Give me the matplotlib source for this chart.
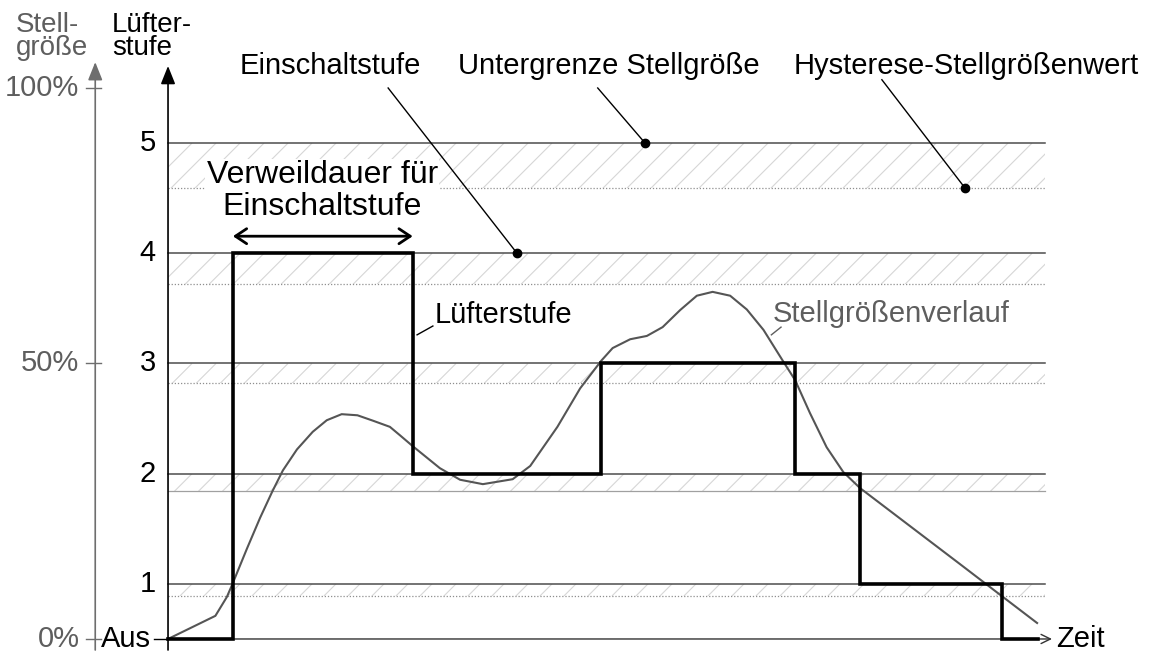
import matplotlib.pyplot as plt
from matplotlib.collections import LineCollection
from matplotlib.patches import Rectangle

plt.rcParams['font.family'] = ['Liberation Sans', 'DejaVu Sans']

# Lüfterstufen mit Untergrenze der Stellgröße (%) und Hysterese (%)
stufen = [1, 2, 3, 4, 5]
untergrenze = [10, 30, 50, 70, 90]
hysterese = [2.2, 3.2, 3.6, 5.6, 8.2]

# Lüfterstufe über der Zeit (Umschaltzeitpunkte, post-step)
schalt_t = [0, 7.4, 27.9, 49.4, 71.5, 78.9, 95.1, 99.2]
schalt_stufe = [0, 4, 2, 3, 2, 1, 0, 0]

# Stellgrößenverlauf
zeit = [0, 5.4, 6.7, 7.3, 9.0, 10.5, 11.9, 13.1, 14.7, 16.5, 18.1, 19.8, 21.6,
        23.4, 25.3, 26.5, 27.9, 31.0, 33.3, 35.9, 39.3, 41.3, 44.4, 47.0, 49.4,
        50.7, 52.7, 54.6, 56.4, 58.4, 60.3, 62.1, 64.1, 66.0, 67.9, 70.1, 71.5,
        73.2, 75.1, 77.0, 78.9, 84.6, 90.3, 94.9, 99.1]
stellgroesse = [0, 4.2, 7.6, 9.8, 16.4, 22.0, 26.8, 30.6, 34.4, 37.6, 39.7,
                40.8, 40.6, 39.6, 38.5, 36.9, 35.0, 31.0, 28.9, 28.1, 29.0,
                31.4, 38.5, 45.5, 50.5, 52.8, 54.4, 55.0, 56.6, 59.7, 62.3,
                63.0, 62.3, 59.8, 56.1, 50.5, 47.0, 41.0, 34.8, 30.3, 27.4,
                20.5, 13.6, 8.0, 2.9]

pct_ticks = [0, 50, 100]
pct_labels = ['0%', '50%', '100%']

W, H = 1154, 657
fig = plt.figure(figsize=(W / 100, H / 100), dpi=100)
ax = fig.add_axes([0, 0, 1, 1])
ax.set_xlim(-19.16, 112.43)
ax.set_ylim(-3.27, 115.97)
ax.axis('off')

# pixel pro Einheit, für Schraffur im 45°-Winkel
sx = W / (112.43 + 19.16)
sy = H / (115.97 + 3.27)

GRAU = '#5e5e5e'
T_END = 100

# Bänder: Untergrenze, Hysterese-Schraffur, gepunktete Linie
for s, u, h in zip(stufen, untergrenze, hysterese):
    lo = u - h
    rect = Rectangle((0, lo), T_END, h, fill=False, lw=0)
    ax.add_patch(rect)
    step = 24 / sx
    dt = h * sy / sx
    segs = []
    t = -dt
    while t < T_END:
        segs.append([(t, lo), (t + dt, u)])
        t += step
    lc = LineCollection(segs, colors='#d6d6d6', linewidths=0.8, zorder=1)
    ax.add_collection(lc)
    lc.set_clip_path(rect)
    ax.plot([0, T_END], [u, u], color='#4d4d4d', lw=1.1, zorder=2)
    if s == 2:
        ax.plot([0, T_END], [lo, lo], color='#a0a0a0', lw=0.9, zorder=2)
    else:
        ax.plot([0, T_END], [lo, lo], color='#8f8f8f', lw=0.9,
                ls=(0, (1, 1.5)), zorder=2)
    ax.text(-1.4, u, str(s), ha='right', va='center', fontsize=21)

# Stellgrößenverlauf
ax.plot(zeit, stellgroesse, color='#555555', lw=1.5, zorder=3,
        solid_joinstyle='round')

# Lüfterstufe als Treppenkurve
stufe_pct = [0 if s == 0 else untergrenze[s - 1] for s in schalt_stufe]
ax.step(schalt_t, stufe_pct, where='post', color='black', lw=2.6, zorder=4,
        solid_joinstyle='miter')

# Zeitachse
ax.annotate('', xy=(100.8, 0), xytext=(0, 0),
            arrowprops=dict(arrowstyle='->,head_length=0.45,head_width=0.22',
                            mutation_scale=15, lw=1.0, color='#333333',
                            shrinkA=0, shrinkB=0), zorder=2)
ax.text(101.3, 0, 'Zeit', ha='left', va='center', fontsize=21)

# Lüfterstufen-Achse
ax.annotate('', xy=(0, 104.0), xytext=(0, -2),
            arrowprops=dict(arrowstyle='-|>,head_length=0.55,head_width=0.22',
                            mutation_scale=20, lw=1.2, color='black',
                            shrinkA=0, shrinkB=0))
ax.plot([-1.6, 0], [0, 0], color='black', lw=1.0)
ax.text(-1.9, 0, 'Aus', ha='right', va='center', fontsize=21)
ax.text(-6.4, 105.9, 'Lüfter-\nstufe', ha='left', va='baseline',
        fontsize=20, linespacing=0.86)

# Stellgrößen-Achse
xs = -8.3
ax.annotate('', xy=(xs, 104.7), xytext=(xs, -2),
            arrowprops=dict(arrowstyle='-|>,head_length=0.55,head_width=0.22',
                            mutation_scale=20, lw=1.2, color='#6e6e6e',
                            shrinkA=0, shrinkB=0))
for p, lab in zip(pct_ticks, pct_labels):
    ax.plot([xs - 1.0, xs + 0.7], [p, p], color='#6e6e6e', lw=1.0)
    ax.text(xs - 1.8, p, lab, ha='right', va='center', fontsize=21,
            color=GRAU)
ax.text(-17.4, 105.9, 'Stell-\ngröße', ha='left', va='baseline',
        fontsize=20, linespacing=0.86, color=GRAU)

# Beschriftungen oben mit Hinweislinien
hinweise = [
    ('Einschaltstufe', 8.2, (25.1, 100), (39.8, untergrenze[3])),
    ('Untergrenze Stellgröße', 33.1, (49.0, 100), (54.4, untergrenze[4])),
    ('Hysterese-Stellgrößenwert', 71.3, (81.4, 101.5),
     (90.9, untergrenze[4] - hysterese[4])),
]
for txt, tx, (x0, y0), (x1, y1) in hinweise:
    ax.text(tx, 102.6, txt, ha='left', va='baseline', fontsize=21)
    ax.plot([x0, x1], [y0, y1], color='black', lw=1.0, zorder=5)
    ax.plot(x1, y1, 'o', color='black', ms=6, zorder=5)

# Verweildauer
ax.text(17.6, 81.3, 'Verweildauer für\nEinschaltstufe', ha='center',
        va='center', fontsize=23, linespacing=1.05, zorder=5,
        bbox=dict(facecolor='white', edgecolor='none', pad=1))
ax.annotate('', xy=(schalt_t[2], 73.1), xytext=(schalt_t[1], 73.1),
            arrowprops=dict(arrowstyle='<->,head_length=0.45,head_width=0.3',
                            mutation_scale=18, lw=2.0, color='black',
                            shrinkA=0, shrinkB=0), zorder=5)

# Kurvenbeschriftungen
ax.text(30.4, 57.4, 'Lüfterstufe', ha='left', va='baseline', fontsize=21)
ax.plot([30.2, 28.4], [56.8, 55.2], color='black', lw=1.0)
ax.text(69.0, 57.5, 'Stellgrößenverlauf', ha='left', va='baseline',
        fontsize=21, color=GRAU)
ax.plot([69.9, 68.8], [56.6, 55.2], color=GRAU, lw=1.0)

fig.savefig('out.png', dpi=100)
